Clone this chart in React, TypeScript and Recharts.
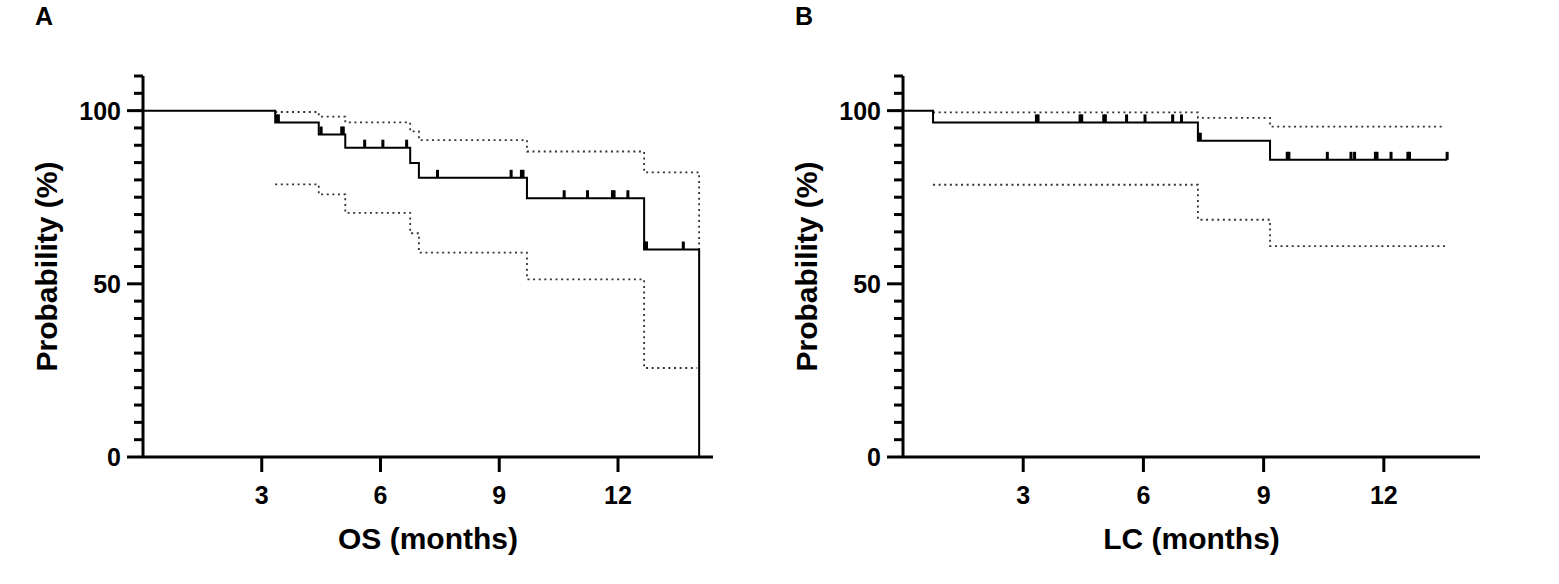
import { ComposedChart, Line, Scatter, XAxis, YAxis } from 'recharts'

// Panel A – overall survival
const osTimes = [0, 3.34, 4.44, 5.11, 6.75, 6.97, 9.7, 12.66, 14.05, 14.05]
const osSurv = [100, 96.6, 93.1, 89.3, 84.9, 80.6, 74.7, 59.9, 59.9, 0]
const osUpperTimes = [3.34, 4.44, 5.11, 6.75, 6.97, 9.7, 12.66, 14.05, 14.05]
const osUpper = [99.6, 98.3, 96.6, 94.0, 91.5, 88.2, 82.2, 82.2, 59.9]
const osLowerTimes = [3.34, 4.44, 5.11, 6.75, 6.97, 9.7, 12.66, 14.0]
const osLower = [78.7, 75.8, 70.5, 64.6, 59.0, 51.3, 25.7, 25.7]
const osCensored = [
  3.38, 3.42, 4.5, 5.02, 5.06, 5.6, 6.06, 6.66, 7.44, 9.3, 9.56, 9.6, 10.64, 11.23, 11.86, 11.9, 12.25,
  12.68, 12.72, 13.65,
]

// Panel B – local control
const lcTimes = [0, 0.75, 7.36, 9.16, 13.58]
const lcSurv = [100, 96.6, 91.3, 85.8, 85.8]
const lcUpperTimes = [0.75, 7.36, 9.16, 13.5]
const lcUpper = [99.5, 97.9, 95.4, 95.4]
const lcLowerTimes = [0.75, 7.36, 9.16, 13.55]
const lcLower = [78.6, 68.5, 60.9, 60.9]
const lcCensored = [
  3.33, 3.37, 4.42, 4.46, 5.01, 5.05, 5.58, 6.04, 6.73, 6.95, 7.38, 7.42, 9.59, 9.63, 10.59, 11.18, 11.27,
  11.79, 11.83, 12.18, 12.6, 12.64, 13.58,
]

const xTicks = [3, 6, 9, 12]
const yTicks = [0, 5, 10, 15, 20, 25, 30, 35, 40, 45, 50, 55, 60, 65, 70, 75, 80, 85, 90, 95, 100, 105, 110]

const FONT = '"Liberation Sans", Arial, Helvetica, sans-serif'

const toPoints = (xs: number[], ys: number[]) => xs.map((x, i) => ({ x, y: ys[i] }))

const stepValue = (xs: number[], ys: number[], t: number) => {
  let v = ys[0]
  xs.forEach((x, i) => {
    if (x <= t) v = ys[i]
  })
  return v
}

const YTick = (props: any) => {
  const { x, y, payload } = props
  const major = payload.value % 50 === 0
  return (
    <g>
      <line x1={x - (major ? 16 : 9)} x2={x} y1={y} y2={y} stroke="#000" strokeWidth={3} />
      {major && (
        <text x={x - 22} y={y} dy="0.36em" textAnchor="end" fontFamily={FONT} fontWeight="bold" fontSize={25} fill="#000">
          {payload.value}
        </text>
      )}
    </g>
  )
}

const XTick = (props: any) => {
  const { x, y, payload } = props
  return (
    <g>
      <line x1={x} x2={x} y1={y} y2={y + 15} stroke="#000" strokeWidth={3} />
      <text x={x} y={y + 47} textAnchor="middle" fontFamily={FONT} fontWeight="bold" fontSize={25} fill="#000">
        {payload.value}
      </text>
    </g>
  )
}

const CensorMark = (props: any) => {
  const { cx, cy } = props
  return <rect x={cx - 1.5} y={cy - 8} width={3} height={8} fill="#000" />
}

type PanelProps = {
  left: number
  width: number
  letter: string
  xTitle: string
  times: number[]
  surv: number[]
  upperTimes: number[]
  upper: number[]
  lowerTimes: number[]
  lower: number[]
  censored: number[]
  rightMargin: number
}

function KmPanel(p: PanelProps) {
  const curve = toPoints(p.times, p.surv)
  const upperCi = toPoints(p.upperTimes, p.upper)
  const lowerCi = toPoints(p.lowerTimes, p.lower)
  const marks = p.censored.map((t) => ({ x: t, y: stepValue(p.times, p.surv, t) }))

  return (
    <div style={{ position: 'absolute', left: p.left, top: 0, width: p.width, height: 584 }}>
      <div
        style={{
          position: 'absolute',
          left: 35,
          top: 4,
          fontFamily: FONT,
          fontWeight: 'bold',
          fontSize: 25,
          lineHeight: 1,
        }}
      >
        {p.letter}
      </div>
      <ComposedChart width={p.width} height={584} margin={{ top: 76, right: p.rightMargin, bottom: 0, left: 0 }}>
        <XAxis
          dataKey="x"
          type="number"
          domain={[0, 14.4]}
          ticks={xTicks}
          interval={0}
          height={127}
          tickSize={0}
          tickMargin={0}
          tickLine={false}
          tick={<XTick />}
          axisLine={{ stroke: '#000', strokeWidth: 3 }}
          allowDataOverflow
          label={({ viewBox }: any) => (
            <text
              x={viewBox.x + viewBox.width / 2}
              y={viewBox.y + 92}
              textAnchor="middle"
              fontFamily={FONT}
              fontWeight="bold"
              fontSize={30}
              fill="#000"
            >
              {p.xTitle}
            </text>
          )}
        />
        <YAxis
          dataKey="y"
          type="number"
          domain={[0, 110]}
          ticks={yTicks}
          interval={0}
          width={143}
          tickSize={0}
          tickMargin={0}
          tickLine={false}
          tick={<YTick />}
          axisLine={{ stroke: '#000', strokeWidth: 3 }}
          label={({ viewBox }: any) => {
            const cx = viewBox.x + 57
            const cy = viewBox.y + viewBox.height / 2
            return (
              <text
                x={cx}
                y={cy}
                transform={`rotate(-90, ${cx}, ${cy})`}
                textAnchor="middle"
                fontFamily={FONT}
                fontWeight="bold"
                fontSize={30}
                fill="#000"
              >
                Probability (%)
              </text>
            )
          }}
        />
        <Line
          data={upperCi}
          dataKey="y"
          type="stepAfter"
          stroke="#333"
          strokeWidth={1.8}
          strokeDasharray="2 3.6"
          dot={false}
          activeDot={false}
          isAnimationActive={false}
        />
        <Line
          data={lowerCi}
          dataKey="y"
          type="stepAfter"
          stroke="#333"
          strokeWidth={1.8}
          strokeDasharray="2 3.6"
          dot={false}
          activeDot={false}
          isAnimationActive={false}
        />
        <Line
          data={curve}
          dataKey="y"
          type="stepAfter"
          stroke="#000"
          strokeWidth={2}
          dot={false}
          activeDot={false}
          isAnimationActive={false}
        />
        <Scatter data={marks} dataKey="y" shape={<CensorMark />} isAnimationActive={false} />
      </ComposedChart>
    </div>
  )
}

export default function App() {
  return (
    <div style={{ position: 'absolute', left: 0, top: 0, width: 1559, height: 584, background: '#fff' }}>
      <KmPanel
        left={0}
        width={740}
        rightMargin={27}
        letter="A"
        xTitle="OS (months)"
        times={osTimes}
        surv={osSurv}
        upperTimes={osUpperTimes}
        upper={osUpper}
        lowerTimes={osLowerTimes}
        lower={osLower}
        censored={osCensored}
      />
      <KmPanel
        left={760}
        width={740}
        rightMargin={20}
        letter="B"
        xTitle="LC (months)"
        times={lcTimes}
        surv={lcSurv}
        upperTimes={lcUpperTimes}
        upper={lcUpper}
        lowerTimes={lcLowerTimes}
        lower={lcLower}
        censored={lcCensored}
      />
    </div>
  )
}
